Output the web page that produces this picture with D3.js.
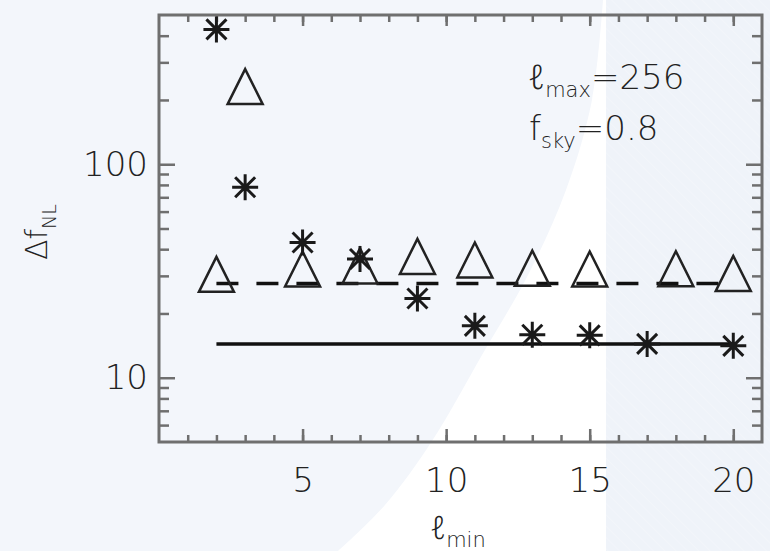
<!DOCTYPE html>
<meta charset="utf-8">
<script src="https://d3js.org/d3.v7.min.js"></script>
<style>
  body { margin: 0; background: #f3f6fb; }
  text { font-family: "DejaVu Sans", sans-serif; font-weight: 200; fill: #222; }
  .ell { font-weight: 300; font-style: normal; font-family: "Noto Sans", "DejaVu Sans", sans-serif; }
</style>
<div id="my_dataviz"></div>
<script>

// asterisks: Delta f_NL per l_min
var lminStar = [2, 3, 5, 7, 9, 11, 13, 15, 17, 20]
var dfStar   = [428, 78, 43, 36, 23.5, 17.5, 15.9, 15.8, 14.4, 14.1]

// triangles
var lminTri = [2, 3, 5, 7, 9, 11, 13, 15, 18, 20]
var dfTri   = [30.5, 231, 32.3, 33.4, 37, 35.6, 32.6, 32.3, 32.4, 30.8]

// horizontal reference lines (from l_min = 2 to 20)
var lineRange = [2, 20]
var solidLevel = 14.4
var dashLevel = 27.6

// ticks
var xMajor = [5, 10, 15, 20]
var xMinor = d3.range(1, 21)
var yMajor = [10, 100]
var yMinor = [6, 7, 8, 9, 20, 30, 40, 50, 60, 70, 80, 90, 200, 300, 400]

var W = 770, H = 551
var margin = {top: 15, right: 8, bottom: 109, left: 158}

var svg = d3.select("#my_dataviz")
  .append("svg")
  .attr("width", W)
  .attr("height", H)

// background: pale page, white swoosh, tinted right panel
svg.append("rect").attr("width", W).attr("height", H).attr("fill", "#f3f6fb")

var defs = svg.append("defs")
var pat = defs.append("pattern")
  .attr("id", "hatch")
  .attr("width", 8).attr("height", 8)
  .attr("patternUnits", "userSpaceOnUse")
  .attr("patternTransform", "rotate(-45)")
pat.append("rect").attr("width", 8).attr("height", 8).attr("fill", "#eff3f9")
pat.append("line").attr("x1", 0).attr("y1", 0).attr("x2", 0).attr("y2", 8)
  .attr("stroke", "#f5f8fc").attr("stroke-width", 1)

var swoosh = [[603, 0], [592, 100], [566, 190], [528, 275], [482, 355], [432, 441], [385, 505], [338, 551]]
var curve = d3.line().curve(d3.curveCatmullRom)
svg.append("path")
  .attr("d", curve(swoosh) + "L606,551L606,0Z")
  .attr("fill", "#ffffff")
svg.append("rect")
  .attr("x", 606).attr("y", 0)
  .attr("width", W - 606).attr("height", H)
  .attr("fill", "url(#hatch)")

var x = d3.scaleLinear()
  .domain([0, 21])
  .range([159, W - margin.right])

var y = d3.scaleLog()
  .domain([5, 500])
  .range([H - margin.bottom, margin.top])

var x0 = x.range()[0], x1 = x.range()[1]
var y0 = y.range()[0], y1 = y.range()[1]

var axisColor = "#6f6f6f"

function styleAxis(g) {
  g.select(".domain").remove()
  g.selectAll(".tick line").attr("stroke", axisColor).attr("stroke-width", 2.5)
  g.selectAll(".tick text").attr("fill", "#222")
    .style("font-size", "34px").attr("font-family", null)
}

// bottom axis
svg.append("g").attr("transform", "translate(0," + y0 + ")")
  .call(d3.axisBottom(x).tickValues(xMinor).tickSize(-7).tickFormat(""))
  .call(styleAxis)
svg.append("g").attr("transform", "translate(0," + y0 + ")")
  .call(d3.axisBottom(x).tickValues(xMajor).tickSize(-13).tickPadding(26).tickFormat(d3.format("d")))
  .call(styleAxis)

// top axis (mirror)
svg.append("g").attr("transform", "translate(0," + y1 + ")")
  .call(d3.axisTop(x).tickValues(xMinor).tickSize(-7).tickFormat(""))
  .call(styleAxis)
svg.append("g").attr("transform", "translate(0," + y1 + ")")
  .call(d3.axisTop(x).tickValues(xMajor).tickSize(-11).tickFormat(""))
  .call(styleAxis)

// left axis
svg.append("g").attr("transform", "translate(" + x0 + ",0)")
  .call(d3.axisLeft(y).tickValues(yMinor).tickSize(-10).tickFormat(""))
  .call(styleAxis)
svg.append("g").attr("transform", "translate(" + x0 + ",0)")
  .call(d3.axisLeft(y).tickValues(yMajor).tickSize(-16).tickPadding(11).tickFormat(d3.format("d")))
  .call(styleAxis)

// right axis (mirror)
svg.append("g").attr("transform", "translate(" + x1 + ",0)")
  .call(d3.axisRight(y).tickValues(yMinor).tickSize(-10).tickFormat(""))
  .call(styleAxis)
svg.append("g").attr("transform", "translate(" + x1 + ",0)")
  .call(d3.axisRight(y).tickValues(yMajor).tickSize(-16).tickFormat(""))
  .call(styleAxis)

// frame
svg.append("rect")
  .attr("x", x0).attr("y", y1)
  .attr("width", x1 - x0).attr("height", y0 - y1)
  .attr("fill", "none")
  .attr("stroke", axisColor)
  .attr("stroke-width", 3)

// reference lines
svg.append("line")
  .attr("x1", x(lineRange[0])).attr("x2", x(lineRange[1]))
  .attr("y1", y(solidLevel)).attr("y2", y(solidLevel))
  .attr("stroke", "#111").attr("stroke-width", 3.5)

svg.append("line")
  .attr("x1", x(lineRange[0])).attr("x2", x(lineRange[1]))
  .attr("y1", y(dashLevel)).attr("y2", y(dashLevel))
  .attr("stroke", "#111").attr("stroke-width", 3.5)
  .attr("stroke-dasharray", "22,18")

// triangles
var triData = lminTri.map(function(d, i) { return {x: d, y: dfTri[i]} })
svg.append("g").selectAll("path")
  .data(triData)
  .enter().append("path")
  .attr("transform", function(d) { return "translate(" + x(d.x) + "," + y(d.y) + ")" })
  .attr("d", "M0,-17.5L-17.5,17.5L17.5,17.5Z")
  .attr("fill", "none")
  .attr("stroke", "#222")
  .attr("stroke-width", 2.5)

// asterisks
var starData = lminStar.map(function(d, i) { return {x: d, y: dfStar[i]} })
var r = 13, q = 10
svg.append("g").selectAll("path")
  .data(starData)
  .enter().append("path")
  .attr("transform", function(d) { return "translate(" + x(d.x) + "," + y(d.y) + ")" })
  .attr("d", "M0,-" + r + "V" + r + "M-" + r + ",0H" + r +
             "M-" + q + ",-" + q + "L" + q + "," + q + "M-" + q + "," + q + "L" + q + ",-" + q)
  .attr("stroke", "#1a1a1a")
  .attr("stroke-width", 3)

// annotations
var ann1 = svg.append("text").attr("x", 528).attr("y", 89).style("font-size", "34px")
ann1.append("tspan").attr("class", "ell").text("ℓ")
ann1.append("tspan").attr("dy", 8).style("font-size", "21px").text("max")
ann1.append("tspan").attr("dy", -8).text("=256")

var ann2 = svg.append("text").attr("x", 529).attr("y", 140).style("font-size", "34px")
ann2.append("tspan").text("f")
ann2.append("tspan").attr("dy", 8).style("font-size", "21px").text("sky")
ann2.append("tspan").attr("dy", -8).text("=0.8")

// axis titles
var xt = svg.append("text")
  .attr("x", 430).attr("y", 539)
  .style("font-size", "32px")
xt.append("tspan").attr("class", "ell").text("ℓ")
xt.append("tspan").attr("dy", 8).style("font-size", "21px").text("min")

var yt = svg.append("text")
  .attr("transform", "translate(47,260) rotate(-90)")
  .style("font-size", "30px")
yt.append("tspan").text("Δf")
yt.append("tspan").attr("dy", 9).style("font-size", "19px").text("NL")

</script>
